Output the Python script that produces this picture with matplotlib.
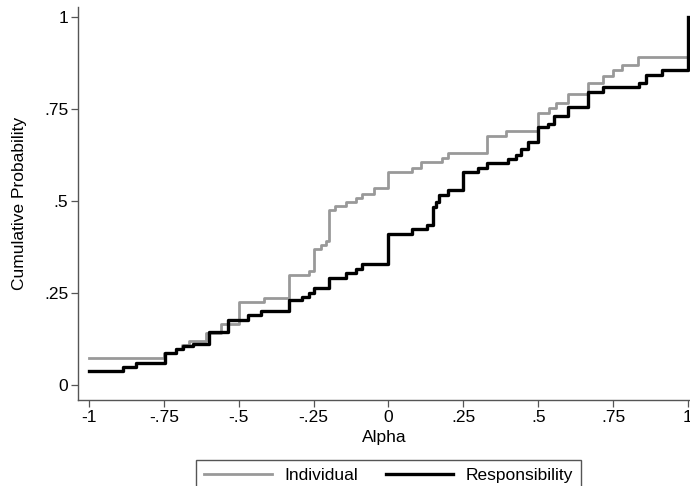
import matplotlib.pyplot as plt

plt.rcParams['font.family'] = ['Liberation Sans', 'DejaVu Sans']

# step points: x where each value starts, cumulative probability
ind_x = [-1, -0.75, -0.71, -0.69, -0.667, -0.61, -0.56, -0.5, -0.417, -0.333,
         -0.267, -0.25, -0.227, -0.21, -0.2, -0.177, -0.143, -0.11, -0.087, -0.05,
         0, 0.08, 0.11, 0.18, 0.2, 0.33, 0.393, 0.5, 0.537, 0.56,
         0.6, 0.667, 0.717, 0.75, 0.78, 0.833, 1]
ind_y = [0.073, 0.087, 0.098, 0.108, 0.12, 0.14, 0.165, 0.225, 0.236, 0.30,
         0.31, 0.37, 0.38, 0.39, 0.475, 0.487, 0.497, 0.508, 0.52, 0.535,
         0.58, 0.59, 0.605, 0.617, 0.63, 0.677, 0.69, 0.74, 0.753, 0.766,
         0.79, 0.82, 0.84, 0.856, 0.87, 0.89, 1.0]

resp_x = [-1, -0.887, -0.843, -0.747, -0.71, -0.687, -0.653, -0.6, -0.537, -0.47,
          -0.427, -0.333, -0.29, -0.267, -0.25, -0.2, -0.143, -0.11, -0.087, 0,
          0.08, 0.127, 0.147, 0.157, 0.167, 0.2, 0.25, 0.3, 0.33, 0.4,
          0.427, 0.443, 0.467, 0.5, 0.533, 0.553, 0.6, 0.667, 0.717, 0.837,
          0.86, 0.913, 1]
resp_y = [0.038, 0.049, 0.06, 0.087, 0.098, 0.106, 0.112, 0.144, 0.177, 0.19,
          0.20, 0.23, 0.24, 0.25, 0.264, 0.29, 0.304, 0.315, 0.33, 0.41,
          0.424, 0.435, 0.484, 0.497, 0.516, 0.53, 0.58, 0.59, 0.603, 0.614,
          0.625, 0.64, 0.66, 0.70, 0.71, 0.73, 0.755, 0.797, 0.81, 0.82,
          0.842, 0.856, 1.0]

xticks = [-1, -0.75, -0.5, -0.25, 0, 0.25, 0.5, 0.75, 1]
xtick_labels = ['-1', '-.75', '-.5', '-.25', '0', '.25', '.5', '.75', '1']
yticks = [0, 0.25, 0.5, 0.75, 1]
ytick_labels = ['0', '.25', '.5', '.75', '1']

fs = 12.5

fig = plt.figure(figsize=(6.9, 4.86), dpi=100)
ax = fig.add_axes([78 / 690, 86 / 486, 612 / 690, 393 / 486])

ax.step(ind_x, ind_y, where='post', color='#999999', lw=2.0, label='Individual')
ax.step(resp_x, resp_y, where='post', color='black', lw=2.4, label='Responsibility')

ax.set_xlim(-1.0367, 1.0067)
ax.set_ylim(-0.0408, 1.027)

ax.set_xticks(xticks)
ax.set_xticklabels(xtick_labels)
ax.set_yticks(yticks)
ax.set_yticklabels(ytick_labels)
ax.tick_params(labelsize=fs, length=5, width=0.9, color='#555555', pad=2)

for s in ['top', 'right']:
    ax.spines[s].set_visible(False)
for s in ['left', 'bottom']:
    ax.spines[s].set_color('#555555')
    ax.spines[s].set_linewidth(1.0)

ax.set_xlabel('Alpha', fontsize=fs, labelpad=4)
ax.set_ylabel('Cumulative Probability', fontsize=fs, labelpad=12)

leg = fig.legend(loc='upper center', bbox_to_anchor=(388.5 / 690, 35 / 486), ncol=2,
                 fontsize=fs, handlelength=3.9, handletextpad=0.7, columnspacing=1.6,
                 borderpad=0.45, fancybox=False, framealpha=1, edgecolor='#555555')
leg.get_frame().set_linewidth(1.0)

fig.savefig('out.png', dpi=100)
